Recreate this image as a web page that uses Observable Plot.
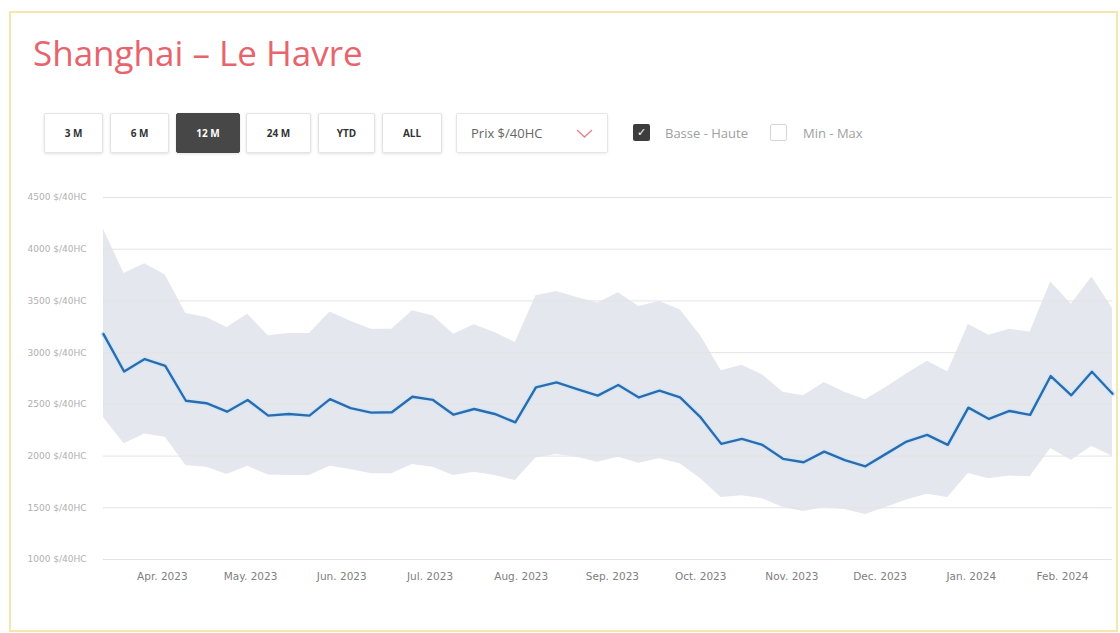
<!DOCTYPE html>
<html>
<head>
<meta charset="utf-8">
<script src="https://cdn.jsdelivr.net/npm/d3@7"></script>
<script src="https://cdn.jsdelivr.net/npm/@observablehq/plot@0.6"></script>
<style>
  html, body { margin: 0; padding: 0; }
  body { width: 1120px; height: 633px; background: #fff; position: relative; overflow: hidden; font-family: "Open Sans", sans-serif; }
  #card { position: absolute; left: 9px; top: 11px; width: 1105px; height: 617px; border: 2px solid #f3e7ae; z-index: 0; }
  #title { position: absolute; left: 33px; top: 35px; font-size: 35px; line-height: 35px; color: #e8646c; white-space: nowrap; z-index: 2; }
  .btn { position: absolute; top: 113px; height: 38px; border: 1px solid #e4e4e4; border-radius: 2px; box-shadow: 0 1px 3px rgba(0,0,0,0.12); background: #fff;
         font-size: 10px; font-weight: 700; color: #333; text-align: center; line-height: 38px; z-index: 2; }
  .btn.on { background: #474747; color: #fff; border-color: #474747; }
  #drop { position: absolute; left: 456px; top: 113px; width: 150px; height: 38px; border: 1px solid #e6e6e6; border-radius: 2px; box-shadow: 0 1px 3px rgba(0,0,0,0.08); z-index: 2; }
  #drop span { position: absolute; left: 14px; top: 0; line-height: 38px; font-size: 13px; color: #666; }
  #drop svg { position: absolute; left: 119px; top: 15px; }
  .cb { position: absolute; top: 124px; width: 17px; height: 17px; border-radius: 2px; z-index: 2; box-sizing: border-box; }
  .cb.on { background: #3d3d3d; color: #fff; font-family: "DejaVu Sans", sans-serif; font-size: 11px; line-height: 17px; text-align: center; }
  .cb.off { border: 1px solid #d6d6d6; background: #fff; }
  .cbl { position: absolute; top: 124px; line-height: 18px; font-size: 13px; color: #a0a0a0; z-index: 2; white-space: nowrap; }
  #chart { position: absolute; left: 0; top: 170px; z-index: 1; }
</style>
</head>
<body>
<div id="card"></div>
<div id="title">Shanghai – Le Havre</div>
<div id="controls"></div>
<div id="drop"><span>Prix $/40HC</span><svg width="17" height="9" viewBox="0 0 17 9"><path d="M1 1 L8.5 8 L16 1" fill="none" stroke="#e9828b" stroke-width="1.3"/></svg></div>
<div class="cb on" style="left:633px">✓</div>
<div class="cbl" style="left:665px">Basse - Haute</div>
<div class="cb off" style="left:770px"></div>
<div class="cbl" style="left:803px">Min - Max</div>
<div id="chart"></div>
<script>
// ---- data ----
const buttons = ["3 M", "6 M", "12 M", "24 M", "YTD", "ALL"];
const activeButton = "12 M";

const dates = [
  "2023-03-12","2023-03-19","2023-03-26","2023-04-02","2023-04-09","2023-04-16","2023-04-23","2023-04-30",
  "2023-05-07","2023-05-14","2023-05-21","2023-05-28","2023-06-04","2023-06-11","2023-06-18","2023-06-25",
  "2023-07-02","2023-07-09","2023-07-16","2023-07-23","2023-07-30","2023-08-06","2023-08-13","2023-08-20",
  "2023-08-27","2023-09-03","2023-09-10","2023-09-17","2023-09-24","2023-10-01","2023-10-08","2023-10-15",
  "2023-10-22","2023-10-29","2023-11-05","2023-11-12","2023-11-19","2023-11-26","2023-12-03","2023-12-10",
  "2023-12-17","2023-12-24","2023-12-31","2024-01-07","2024-01-14","2024-01-21","2024-01-28","2024-02-04",
  "2024-02-11","2024-02-18"
];
const mid = [3179,2818,2938,2873,2535,2511,2429,2542,2391,2407,
             2391,2550,2463,2420,2423,2574,2543,2400,2455,2407,
             2326,2664,2712,2648,2584,2687,2567,2632,2567,2374,
             2118,2166,2108,1973,1940,2043,1961,1901,2021,2140,
             2205,2109,2468,2359,2436,2398,2774,2588,2815,2603];
const high = [4192,3764,3860,3751,3378,3339,3243,3372,3163,3185,
              3185,3394,3303,3227,3227,3404,3356,3179,3269,3195,
              3098,3549,3590,3532,3481,3578,3447,3494,3414,3163,
              2825,2878,2786,2616,2584,2712,2617,2545,2664,2793,
              2917,2815,3272,3168,3227,3199,3682,3469,3732,3428];
const low = [2374,2118,2214,2181,1908,1892,1821,1901,1818,1812,
             1812,1901,1870,1828,1828,1918,1892,1812,1844,1812,
             1763,1981,2014,1988,1940,1988,1930,1973,1925,1780,
             1599,1616,1587,1503,1464,1503,1484,1435,1503,1575,
             1631,1599,1831,1780,1807,1799,2074,1960,2096,1995];

const yTicks = [1000,1500,2000,2500,3000,3500,4000,4500];
const yUnit = "$/40HC";
const xTickDates = ["2023-04-01","2023-05-01","2023-06-01","2023-07-01","2023-08-01","2023-09-01",
                    "2023-10-01","2023-11-01","2023-12-01","2024-01-01","2024-02-01"];
const xTickLabels = ["Apr. 2023","May. 2023","Jun. 2023","Jul. 2023","Aug. 2023","Sep. 2023",
                     "Oct. 2023","Nov. 2023","Dec. 2023","Jan. 2024","Feb. 2024"];

// ---- controls ----
const btnLayout = [[44,57],[110,57],[176,62],[246,63],[318,55],[382,58]];
const ctrl = document.getElementById("controls");
buttons.forEach((b, i) => {
  const d = document.createElement("div");
  d.className = "btn" + (b === activeButton ? " on" : "");
  d.style.left = btnLayout[i][0] + "px";
  d.style.width = btnLayout[i][1] + "px";
  d.textContent = b;
  ctrl.appendChild(d);
});

// ---- chart ----
const data = dates.map((d, i) => ({date: new Date(d), mid: mid[i], high: high[i], low: low[i]}));
const tickDates = xTickDates.map(d => new Date(d));
const labelByTime = new Map(tickDates.map((d, i) => [d.getTime(), xTickLabels[i]]));

const chart = Plot.plot({
  width: 1120,
  height: 420,
  marginLeft: 103,
  marginRight: 8,
  marginTop: 27,
  marginBottom: 31,
  style: {background: "transparent", overflow: "visible"},
  x: {type: "utc", domain: [data[0].date, data[data.length - 1].date]},
  y: {domain: [1000, 4500]},
  marks: [
    Plot.areaY(data, {x: "date", y1: "low", y2: "high", fill: "#e5e7ee", curve: "linear"}),
    Plot.gridY(yTicks, {stroke: "#e3e3e3", strokeOpacity: 1, strokeWidth: 1}),
    Plot.lineY(data, {x: "date", y: "mid", stroke: "#d3e7f7", strokeWidth: 5.5, strokeLinejoin: "round"}),
    Plot.lineY(data, {x: "date", y: "mid", stroke: "#2c6cae", strokeWidth: 2.4, strokeLinejoin: "round"}),
    Plot.axisY(yTicks, {tickSize: 0, tickPadding: 76, textAnchor: "start", label: null,
      tickFormat: d => `${d} ${yUnit}`, fontSize: 9, fontFamily: "DejaVu Sans", fill: "#b0b0b0"}),
    Plot.axisX(tickDates, {tickSize: 0, tickPadding: 13, label: null,
      tickFormat: d => labelByTime.get(d.getTime()), fontSize: 10.5, fontFamily: "DejaVu Sans", fill: "#808080"})
  ]
});
document.getElementById("chart").appendChild(chart);
</script>
</body>
</html>
